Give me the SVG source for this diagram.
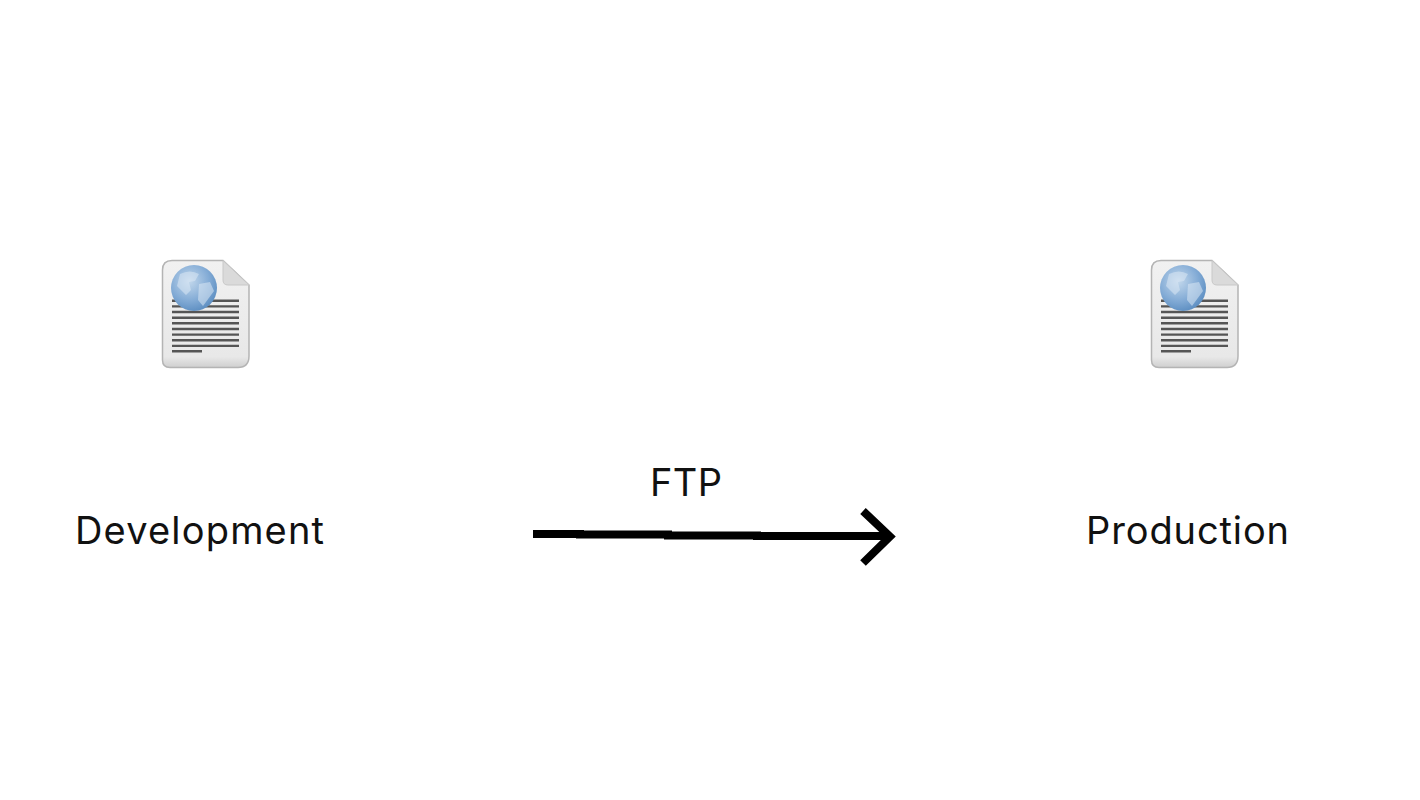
<svg xmlns="http://www.w3.org/2000/svg" xmlns:xlink="http://www.w3.org/1999/xlink" width="1420" height="800" viewBox="0 0 1420 800">
<style>
.lbl{font-family:"Inter","Liberation Sans",sans-serif;font-size:38px;fill:#111}
.rule{stroke:#555;stroke-width:2.4;fill:none}
.conn{stroke:#000;fill:none;stroke-width:8}
</style>
<defs>
<linearGradient id="paper" x1="0" y1="0" x2="0" y2="1"><stop offset="0" stop-color="#f1f1f1"/><stop offset="0.9" stop-color="#e8e8e8"/><stop offset="1" stop-color="#cfcfcf"/></linearGradient>
<radialGradient id="globe" cx="0.4" cy="0.35" r="0.7"><stop offset="0" stop-color="#c3d8ec"/><stop offset="0.6" stop-color="#84acd6"/><stop offset="1" stop-color="#5a8cc0"/></radialGradient>
<symbol id="doc" overflow="visible">
<path d="M10 0.5H61L87 25V96Q87 107.500 76 107.500H8Q0.500 107.500 0.500 100V10Q0.500 0.500 10 0.500Z" fill="url(#paper)" stroke="#b4b4b4" stroke-width="1.500"/>
<path d="M61 0.500L87 25H66Q61 25 61 20Z" fill="#dadada" stroke="#c8c8c8"/>
<path class="rule" d="M10 40.700H77M10 46.400H77M10 52H77M10 57.700H77M10 63.300H77M10 69H77M10 74.600H77M10 80.300H77M10 85.900H77M10 91.200H40"/>
<circle cx="32" cy="28" r="23" fill="url(#globe)"/>
<path d="M18 14Q28 9 37 14L33 21L27 22L29 30L24 35L15 26ZM37 24L48 22L52 31L41 46L36 40Z" fill="#dbe8f4" opacity="0.55"/>
</symbol>
</defs>
<g id="connectors">
<path class="conn" d="M533 534H580V534.500H668V535.500H757V536H888"/>
<path class="conn" d="M863 511L890 536.500L863 563"/>
</g>
<g id="development"><use href="#doc" xlink:href="#doc" x="162" y="260"/><text class="lbl" x="75" y="544" textLength="249" lengthAdjust="spacing">Development</text></g>
<g id="production"><use href="#doc" xlink:href="#doc" x="1151" y="260"/><text class="lbl" x="1086" y="544" textLength="203" lengthAdjust="spacing">Production</text></g>
<g id="ftp"><text class="lbl" x="650" y="496" textLength="72" lengthAdjust="spacing">FTP</text></g>
</svg>
